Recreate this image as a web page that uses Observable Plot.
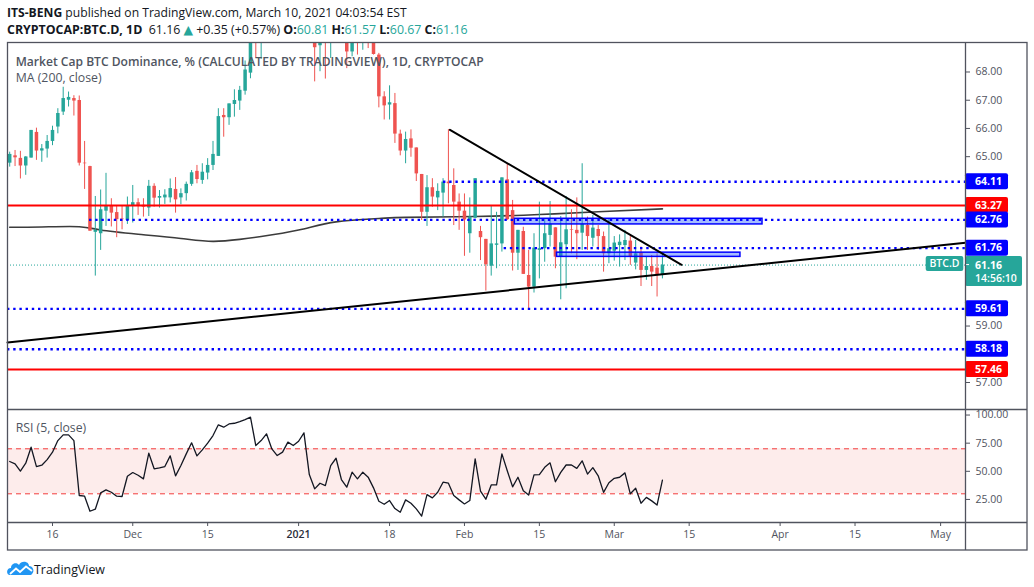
<!DOCTYPE html>
<html>
<head>
<meta charset="utf-8">
<script src="https://cdn.jsdelivr.net/npm/d3@7"></script>
<script src="https://cdn.jsdelivr.net/npm/@observablehq/plot@0.6"></script>
<style>
html,body{margin:0;padding:0;background:#fff;}
body{width:1034px;height:587px;position:relative;overflow:hidden;}
#price{position:absolute;left:0;top:42px;}
#rsi{position:absolute;left:0;top:410px;}
#overlay{position:absolute;left:0;top:0;pointer-events:none;}
</style>
</head>
<body>
<div id="price"></div>
<div id="rsi"></div>
<svg id="overlay" width="1034" height="587"></svg>
<script>
// ---------------- DATA ----------------
const firstDay = "2020-11-08", dayAfterLast = "2021-03-11";
const open = [64.77,65.03,64.94,64.67,64.95,65.86,65.20,65.27,65.54,66.05,
66.58,67.00,67.06,66.99,64.77,64.65,62.32,62.27,63.07,63.27,
63.02,62.79,62.74,63.26,63.37,63.28,63.18,63.95,63.53,63.54,
63.54,63.84,63.54,63.69,64.02,64.48,64.16,64.42,64.69,65.01,
66.46,66.38,66.85,66.97,67.32,67.96,69.4,69.1,69.6,70.3,
69.9,69.7,69.9,70.5,70.3,70.6,71.1,69.6,68.93,69.3,
69.1,69.6,69.9,69.3,68.71,69.2,69.05,69.2,69.08,68.60,
67.12,66.83,66.88,65.80,65.20,65.63,65.31,64.37,63.03,63.90,
63.54,63.71,64.10,63.98,63.39,63.07,62.27,62.82,62.35,62.07,
61.12,61.86,61.91,64.18,63.09,61.58,62.35,60.79,60.38,61.68,
61.74,62.21,62.48,61.46,61.88,62.41,62.39,62.29,62.56,62.11,
62.42,62.17,61.56,61.65,61.85,61.85,62.01,61.23,61.58,60.97,
61.11,61.05,60.81];
const high = [65.16,65.22,65.19,65.00,65.93,66.01,65.43,65.75,66.08,66.70,
67.46,67.29,67.16,67.15,65.54,64.66,63.59,63.82,64.41,63.51,
63.24,63.27,63.57,63.98,63.51,63.51,64.16,64.04,63.80,63.83,
64.21,64.26,63.86,64.10,64.51,64.69,64.75,64.93,65.54,66.70,
66.70,66.87,67.37,67.49,68.39,69.6,69.7,69.9,70.6,70.6,
70.3,70.4,70.8,70.9,70.9,71.5,71.3,69.9,69.6,69.6,
69.9,70.1,70.0,69.5,69.5,69.4,69.4,69.35,69.2,68.66,
67.30,67.51,67.24,65.94,65.87,65.95,65.31,64.37,64.33,64.22,
64.04,64.22,65.96,64.57,63.68,63.68,63.54,64.22,62.53,62.07,
63.24,63.03,64.25,64.75,63.45,62.39,62.50,61.68,62.27,63.39,
62.80,63.41,62.48,62.88,63.59,63.12,63.54,64.75,62.86,62.92,
62.56,62.33,62.80,62.17,62.23,62.39,62.17,62.03,61.80,61.46,
61.50,61.56,61.57];
const low = [64.63,64.65,64.21,64.34,64.95,64.87,64.80,64.95,65.39,65.81,
66.46,66.76,66.44,64.67,63.84,62.36,60.77,61.68,62.53,62.51,
62.13,62.41,62.60,62.65,62.92,62.86,62.88,63.21,63.18,63.31,
63.36,63.00,63.30,63.43,63.95,64.04,64.02,64.18,64.51,65.01,
65.69,66.11,66.40,66.64,67.18,67.76,68.48,68.45,69.4,69.6,
69.4,69.5,69.7,70.0,70.1,70.4,69.3,67.65,68.01,67.75,
68.48,69.2,69.1,68.12,68.54,68.6,68.77,68.83,68.60,66.73,
66.30,66.30,65.47,65.03,64.75,64.98,64.12,62.74,62.53,63.21,
63.09,62.86,63.33,62.56,62.39,61.47,61.58,62.80,61.32,60.24,
60.77,61.03,61.62,62.74,60.95,60.97,60.83,59.61,60.17,60.67,
61.26,61.80,61.03,59.93,60.32,61.56,61.35,61.68,61.68,61.80,
61.68,60.91,61.21,61.30,61.09,61.32,61.15,60.99,60.40,60.62,
60.40,60.03,60.67];
const close = [65.08,64.96,64.67,64.99,65.93,65.20,65.28,65.54,65.93,66.53,
67.06,67.10,66.97,64.77,64.75,62.36,62.39,63.12,63.27,63.00,
62.77,62.77,63.26,63.37,63.24,63.21,63.95,63.53,63.59,63.64,
63.87,63.47,63.69,64.02,64.43,64.19,64.45,64.69,65.08,66.42,
66.38,66.87,66.99,67.35,68.07,69.4,69.1,69.6,70.3,69.9,
69.7,69.9,70.5,70.3,70.6,71.1,69.6,68.86,69.3,69.1,
69.6,69.9,69.3,68.71,69.2,69.05,69.2,69.08,68.62,67.12,
66.80,66.91,65.80,65.20,65.61,65.30,64.39,63.03,63.90,63.57,
63.77,64.10,64.04,63.39,63.07,62.76,62.86,64.22,62.13,61.17,
61.91,61.91,64.25,62.77,61.58,62.39,60.83,60.38,61.76,61.74,
62.27,62.60,61.44,61.95,62.41,62.39,62.27,62.60,62.17,62.47,
62.17,61.56,61.74,61.94,61.97,62.03,61.46,61.56,60.97,61.11,
60.91,60.81,61.16];
const rsi = [58.7,56.6,50.1,57.2,71.4,54.2,55.4,60.4,67.0,77.3,
82.4,82.4,77.3,28.5,27.9,14.5,16.3,30.8,33.5,31.4,
27.9,27.6,45.6,48.9,46.5,43.3,66.1,52.2,53.0,54.2,
63.7,45.9,55.1,65.5,75.3,63.7,69.0,75.0,81.8,91.3,
89.2,92.1,92.7,94.2,96.0,98.1,72.9,77.3,83.3,69.9,
64.0,67.0,75.9,72.9,76.7,84.2,47.1,34.4,39.4,37.3,
55.1,61.6,42.7,35.9,49.2,43.3,49.2,44.8,35.3,23.4,
20.7,24.0,16.9,13.6,24.6,21.6,16.6,10.1,29.3,26.4,
31.4,40.3,39.4,28.5,24.6,21.0,24.0,61.0,32.3,25.2,
37.9,37.9,65.5,50.5,36.2,44.7,32.8,28.9,46.8,47.1,
53.5,57.5,40.7,49.0,55.6,55.6,52.6,59.3,47.5,53.2,
46.0,31.3,39.8,43.8,44.7,48.6,30.0,34.9,21.6,26.8,
23.7,20.0,42.2];
const maDates = ["2020-11-08","2020-11-14","2020-11-21","2020-11-25","2020-12-02","2020-12-10","2020-12-16","2020-12-21","2020-12-25","2021-01-01","2021-01-08","2021-01-16","2021-01-21","2021-02-03","2021-02-15","2021-02-26","2021-03-10"];
const maValues = [62.50,62.51,62.52,62.40,62.25,62.10,62.00,62.07,62.17,62.40,62.69,62.81,62.85,62.88,62.95,63.05,63.15];
const levelValues = [64.11,63.27,62.76,61.76,59.61,58.18,57.46];
const levelKinds  = ["dotted","solid","dotted","dotted","dotted","dotted","solid"];
const levelStarts = ["2021-01-28T02:00Z",null,"2020-11-22T22:00Z","2021-02-08T10:00Z",null,null,null];
const zoneStarts = ["2021-02-10T10:00Z","2021-02-18T07:00Z"];
const zoneEnds   = ["2021-03-28T17:00Z","2021-03-24T14:00Z"];
const zoneLows   = [62.60,61.45];
const zoneHighs  = [62.80,61.60];
const trendDownDates = ["2021-01-29T07:00Z","2021-03-13T14:00Z"];
const trendDownValues = [65.95,61.17];
const trendUpDates = ["2020-11-07T14:08Z","2021-05-05T15:36Z"];
const trendUpValues = [58.42,61.95];
const priceTicks = [57,58,59,60,61,62,63,64,65,66,67,68];
const rsiTicks = [25,50,75,100];
const rsiBands = [30,70];
const xTickDates = ["2020-11-16","2020-12-01","2020-12-15","2021-01-01","2021-01-18","2021-02-01","2021-02-15","2021-03-01","2021-03-15","2021-04-01","2021-04-15","2021-05-01"];
const xTickLabels = ["16","Dec","15","2021","18","Feb","15","Mar","15","Apr","15","May"];
const lastPrice = 61.16, countdown = "14:56:10", symbolLabel = "BTC.D";
const viewStart = "2020-11-07T14:08Z", viewEnd = "2021-05-05T15:36Z";

// ---------------- SETUP ----------------
const TEAL = "#26a69a", RED = "#ef5350", BLUE = "#0000ff", LRED = "#ff0000";
const FONT = "'Open Sans','Noto Sans','DejaVu Sans',sans-serif";
const W = 1034, ML = 7, MR = 69;
const xDomain = [new Date(viewStart), new Date(viewEnd)];
const dates = d3.utcDays(new Date(firstDay), new Date(dayAfterLast));
const rows = dates.map((date,i)=>({date, open:open[i], high:high[i], low:low[i], close:close[i], rsi:rsi[i]}));
const up = rows.filter(d=>d.close>=d.open), down = rows.filter(d=>d.close<d.open);
const levels = levelValues.map((v,i)=>({value:v, kind:levelKinds[i], start: levelStarts[i] ? new Date(levelStarts[i]) : xDomain[0]}));
const zones = zoneStarts.map((s,i)=>({x1:new Date(s), x2:new Date(zoneEnds[i]), y1:zoneLows[i], y2:zoneHighs[i]}));
const ma = maDates.map((d,i)=>({date:new Date(d), value:maValues[i]}));
const tDown = trendDownDates.map((d,i)=>({date:new Date(d), value:trendDownValues[i]}));
const tUp = trendUpDates.map((d,i)=>({date:new Date(d), value:trendUpValues[i]}));
const xTickMap = new Map(xTickDates.map((d,i)=>[+new Date(d), xTickLabels[i]]));

// price-axis tick labels that the value boxes would cover are left out (as in the original, where they are hidden)
const pxPerUnit = 368 / (69.045 - 56.008);
const visibleTicks = priceTicks.filter(t =>
  levelValues.every(v => Math.abs(t - v) * pxPerUnit > 12) &&
  !(t > lastPrice - 24 / pxPerUnit && t < lastPrice + 13 / pxPerUnit));

const axisStyle = {fontFamily: FONT, fontSize: "10.5px", color: "#50535e", background: "transparent"};

const priceChart = Plot.plot({
  width: W, height: 368, marginLeft: ML, marginRight: MR, marginTop: 0, marginBottom: 0,
  x: {type: "utc", domain: xDomain, axis: null},
  y: {domain: [56.008, 69.045], axis: "right", ticks: visibleTicks, tickFormat: d => d.toFixed(2), tickSize: 4, tickPadding: 6, label: null},
  style: {...axisStyle, overflow: "hidden"},
  marks: [
    Plot.ruleY([lastPrice], {stroke: TEAL, strokeWidth: 1, strokeDasharray: "1,2"}),
    Plot.line(ma, {x: "date", y: "value", curve: "natural", stroke: "#1a1a1a", strokeWidth: 1.6, strokeOpacity: 0.85}),
    Plot.ruleX(up, {x: "date", y1: "low", y2: "high", stroke: TEAL, strokeWidth: 1, clip: true}),
    Plot.ruleX(down, {x: "date", y1: "low", y2: "high", stroke: RED, strokeWidth: 1, clip: true}),
    Plot.ruleX(up, {x: "date", y1: "open", y2: "close", stroke: TEAL, strokeWidth: 3.5, clip: true}),
    Plot.ruleX(down, {x: "date", y1: "open", y2: "close", stroke: RED, strokeWidth: 3.5, clip: true}),
    Plot.rect(zones, {x1: "x1", x2: "x2", y1: "y1", y2: "y2", fill: "#2962ff", fillOpacity: 0.42, stroke: BLUE, strokeWidth: 1.5}),
    Plot.ruleY(levels.filter(d=>d.kind==="solid"), {y: "value", x1: "start", x2: () => xDomain[1], stroke: LRED, strokeWidth: 2}),
    Plot.ruleY(levels.filter(d=>d.kind==="dotted"), {y: "value", x1: "start", x2: () => xDomain[1], stroke: BLUE, strokeWidth: 2.4, strokeDasharray: "2.4,3.8"}),
    Plot.line(tDown, {x: "date", y: "value", stroke: "#000", strokeWidth: 2}),
    Plot.line(tUp, {x: "date", y: "value", stroke: "#000", strokeWidth: 2})
  ]
});
document.getElementById("price").appendChild(priceChart);

const rsiChart = Plot.plot({
  width: W, height: 140, marginLeft: ML, marginRight: MR, marginTop: 0, marginBottom: 28,
  x: {type: "utc", domain: xDomain, ticks: xTickDates.map(d=>new Date(d)), tickFormat: d => xTickMap.get(+d) ?? "", tickSize: 4, tickPadding: 4.5, label: null},
  y: {domain: [4.49, 104.04], axis: "right", ticks: rsiTicks, tickFormat: d => d.toFixed(2), tickSize: 4, tickPadding: 6, label: null},
  style: {...axisStyle, overflow: "visible"},
  marks: [
    Plot.rect([rsiBands], {x1: () => xDomain[0], x2: () => xDomain[1], y1: d => d[0], y2: d => d[1], fill: "#fdeceb"}),
    Plot.ruleY(rsiBands, {stroke: "#f23b3b", strokeWidth: 1, strokeDasharray: "5,4"}),
    Plot.line(rows, {x: "date", y: "rsi", stroke: "#131722", strokeWidth: 1.3})
  ]
});
document.getElementById("rsi").appendChild(rsiChart);
d3.select(rsiChart).selectAll("text").filter(function(){return this.textContent === "2021";}).attr("font-weight", 600).attr("fill", "#2a2e39");

// ----- price-axis value boxes -----
const ysc = priceChart.scale("y");
const yPx = ysc && ysc.apply ? v => ysc.apply(v) : d3.scaleLinear(ysc.domain, ysc.range);
const axX = W - MR;
const gl = d3.select(priceChart).append("g").attr("font-family", FONT).attr("font-size", 10.5).attr("font-weight", 700);
levels.forEach(L => {
  const y = yPx(L.value);
  gl.append("rect").attr("x", axX).attr("y", y - 8).attr("width", 43).attr("height", 16).attr("rx", 2)
    .attr("fill", L.kind === "solid" ? LRED : BLUE);
  gl.append("text").attr("x", axX + 10).attr("y", y).attr("dy", "0.36em").attr("fill", "#fff").attr("text-anchor", "start").text(L.value.toFixed(2));
});
{
  const y = yPx(lastPrice);
  gl.append("rect").attr("x", axX).attr("y", y - 8.6).attr("width", 57).attr("height", 30).attr("rx", 2).attr("fill", TEAL);
  gl.append("line").attr("x1", axX).attr("x2", axX + 4).attr("y1", y).attr("y2", y).attr("stroke", "#fff");
  gl.append("text").attr("x", axX + 10).attr("y", y + 0.8).attr("dy", "0.36em").attr("fill", "#fff").attr("text-anchor", "start").text(lastPrice.toFixed(2));
  gl.append("text").attr("x", axX + 10).attr("y", y + 13.8).attr("dy", "0.36em").attr("fill", "#fff").attr("font-weight", 600).attr("text-anchor", "start").text(countdown);
  gl.append("rect").attr("x", axX - 39.3).attr("y", y - 8.6).attr("width", 37.6).attr("height", 15).attr("rx", 2).attr("fill", TEAL);
  gl.append("text").attr("x", axX - 20.5).attr("y", y - 1.1).attr("dy", "0.36em").attr("fill", "#fff").attr("font-weight", 600).attr("text-anchor", "middle").text(symbolLabel);
}

// ---------------- OVERLAY: frame, header, legends ----------------
const ov = d3.select("#overlay").attr("font-family", FONT);
const LC = "#50535e";
ov.append("rect").attr("x", 7.5).attr("y", 42.5).attr("width", 1019.5).attr("height", 507.5).attr("fill", "none").attr("stroke", LC).attr("stroke-width", 1.3);
ov.append("line").attr("x1", 7).attr("x2", 1027).attr("y1", 409.5).attr("y2", 409.5).attr("stroke", LC).attr("stroke-width", 1.3);
ov.append("line").attr("x1", 7).attr("x2", 1027).attr("y1", 522.5).attr("y2", 522.5).attr("stroke", LC).attr("stroke-width", 1.3);
ov.append("line").attr("x1", 965.5).attr("x2", 965.5).attr("y1", 42.5).attr("y2", 550).attr("stroke", LC).attr("stroke-width", 1.3);

function fit(t, target){
  const w = t.node().getComputedTextLength();
  const fs = parseFloat(t.attr("font-size"));
  if (w > 0) t.attr("font-size", (fs * target / w).toFixed(2));
}
const h1 = ov.append("text").attr("x", 7).attr("y", 17.3).attr("font-size", 13).attr("fill", "#131722").style("white-space", "pre");
h1.append("tspan").attr("font-weight", 700).text("ITS-BENG");
h1.append("tspan").text(" published on TradingView.com, March 10, 2021 04:03:54 EST");
fit(h1, 400);

const h2 = ov.append("text").attr("x", 7).attr("y", 33.5).attr("font-size", 13).attr("fill", "#131722").style("white-space", "pre");
const parts = [["CRYPTOCAP:BTC.D, 1D","b"],["  61.16 ",""],["▲","t"],[" +0.35 (+0.57%) ",""],["O:","b"],["60.81","t"],[" ",""],["H:","b"],["61.57","t"],[" ",""],["L:","b"],["60.67","t"],[" ",""],["C:","b"],["61.16","t"]];
parts.forEach(([s,k]) => {
  const ts = h2.append("tspan").text(s);
  if (k === "b") ts.attr("font-weight", 700);
  if (k === "t") ts.attr("fill", TEAL);
});
fit(h2, 461);

const lg1 = ov.append("text").attr("x", 15.7).attr("y", 66).attr("font-size", 13).attr("font-weight", 600).attr("fill", "#4f5561").text("Market Cap BTC Dominance, % (CALCULATED BY TRADINGVIEW), 1D, CRYPTOCAP");
fit(lg1, 468);
const lg2 = ov.append("text").attr("x", 15.7).attr("y", 81.7).attr("font-size", 13).attr("fill", "#4f5561").text("MA (200, close)");
fit(lg2, 86);
const lg3 = ov.append("text").attr("x", 15.7).attr("y", 431.7).attr("font-size", 13).attr("fill", "#4f5561").text("RSI (5, close)");
fit(lg3, 70.5);

// footer logo + brand
const logo = ov.append("g").attr("transform", "translate(7,560)");
logo.append("path").attr("d", "M3 15 C-1 15 -1 8 4 8 C4 3 10 2 12 5 C14 0 22 1 22 6 C26 6 28 11 25 14 C24.5 14.7 24 15 23 15 Z").attr("fill", "#2196f3");
logo.append("polyline").attr("points", "3,14 9,8.5 13,12 19,6.5 25,11").attr("fill", "none").attr("stroke", "#fff").attr("stroke-width", 1.8);
const ft = ov.append("text").attr("x", 34).attr("y", 573.5).attr("font-size", 14).attr("fill", "#131722").text("TradingView");
fit(ft, 71);
</script>
</body>
</html>
